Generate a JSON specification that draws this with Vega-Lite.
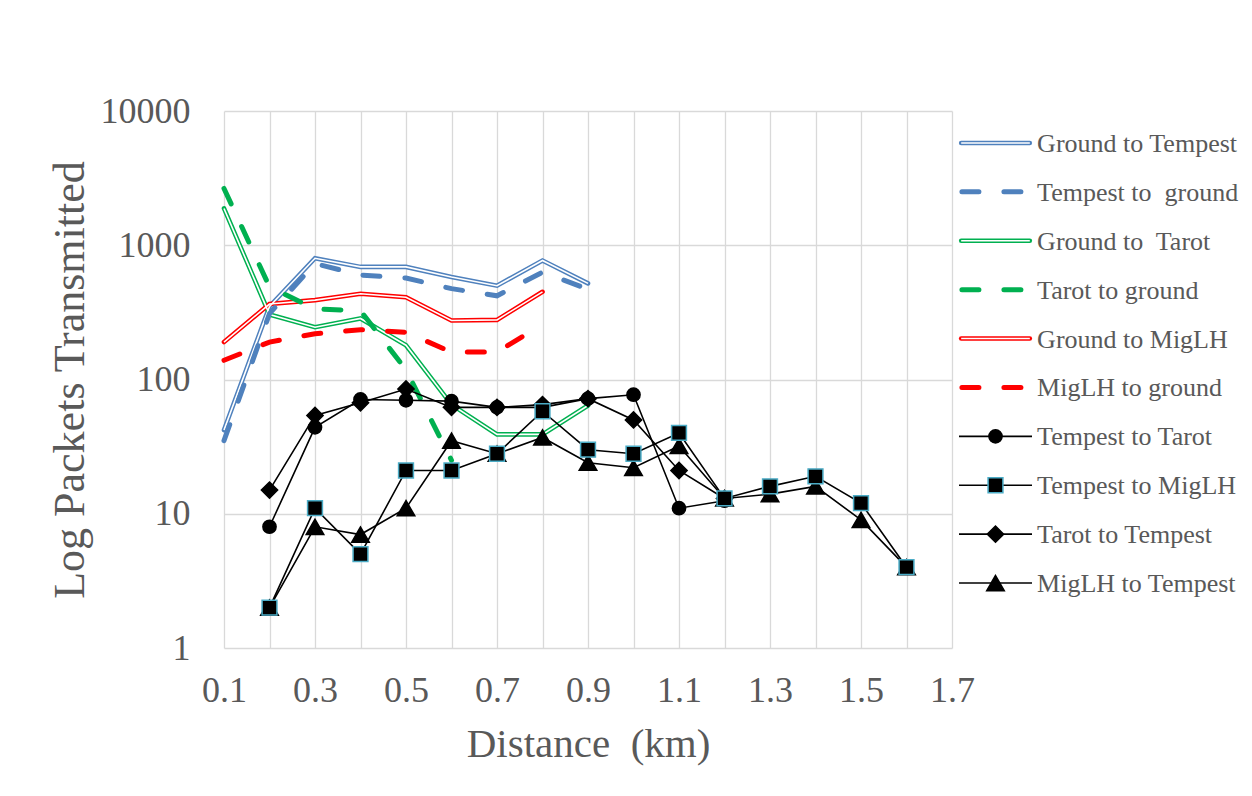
{
  "$schema": "https://vega.github.io/schema/vega-lite/v6.json",
  "background": "white",
  "padding": {"left": 48, "top": 93, "right": 3, "bottom": 5},
  "bounds": "flush",
  "spacing": 7,
  "config": {"font": "Liberation Serif", "view": {"stroke": null}},
  "datasets": {
    "pts": [
      {"series": "Ground to Tempest", "distance": 0.1, "packets": 42},
      {"series": "Ground to Tempest", "distance": 0.2, "packets": 350},
      {"series": "Ground to Tempest", "distance": 0.3, "packets": 800},
      {"series": "Ground to Tempest", "distance": 0.4, "packets": 690},
      {"series": "Ground to Tempest", "distance": 0.5, "packets": 690},
      {"series": "Ground to Tempest", "distance": 0.6, "packets": 580},
      {"series": "Ground to Tempest", "distance": 0.7, "packets": 500},
      {"series": "Ground to Tempest", "distance": 0.8, "packets": 770},
      {"series": "Ground to Tempest", "distance": 0.9, "packets": 520},
      {"series": "Tempest to\u00a0 ground", "distance": 0.1, "packets": 35},
      {"series": "Tempest to\u00a0 ground", "distance": 0.2, "packets": 310},
      {"series": "Tempest to\u00a0 ground", "distance": 0.3, "packets": 730},
      {"series": "Tempest to\u00a0 ground", "distance": 0.4, "packets": 600},
      {"series": "Tempest to\u00a0 ground", "distance": 0.5, "packets": 570},
      {"series": "Tempest to\u00a0 ground", "distance": 0.6, "packets": 475},
      {"series": "Tempest to\u00a0 ground", "distance": 0.7, "packets": 420},
      {"series": "Tempest to\u00a0 ground", "distance": 0.8, "packets": 630},
      {"series": "Tempest to\u00a0 ground", "distance": 0.9, "packets": 470},
      {"series": "Ground to\u00a0 Tarot", "distance": 0.1, "packets": 1880},
      {"series": "Ground to\u00a0 Tarot", "distance": 0.2, "packets": 305},
      {"series": "Ground to\u00a0 Tarot", "distance": 0.3, "packets": 245},
      {"series": "Ground to\u00a0 Tarot", "distance": 0.4, "packets": 285},
      {"series": "Ground to\u00a0 Tarot", "distance": 0.5, "packets": 180},
      {"series": "Ground to\u00a0 Tarot", "distance": 0.6, "packets": 65},
      {"series": "Ground to\u00a0 Tarot", "distance": 0.7, "packets": 39},
      {"series": "Ground to\u00a0 Tarot", "distance": 0.8, "packets": 39},
      {"series": "Ground to\u00a0 Tarot", "distance": 0.9, "packets": 64},
      {"series": "Tarot to ground", "distance": 0.1, "packets": 2650},
      {"series": "Tarot to ground", "distance": 0.2, "packets": 490},
      {"series": "Tarot to ground", "distance": 0.3, "packets": 335},
      {"series": "Tarot to ground", "distance": 0.4, "packets": 325},
      {"series": "Tarot to ground", "distance": 0.5, "packets": 118},
      {"series": "Tarot to ground", "distance": 0.6, "packets": 25},
      {"series": "Ground to MigLH", "distance": 0.1, "packets": 190},
      {"series": "Ground to MigLH", "distance": 0.2, "packets": 365},
      {"series": "Ground to MigLH", "distance": 0.3, "packets": 390},
      {"series": "Ground to MigLH", "distance": 0.4, "packets": 435},
      {"series": "Ground to MigLH", "distance": 0.5, "packets": 410},
      {"series": "Ground to MigLH", "distance": 0.6, "packets": 275},
      {"series": "Ground to MigLH", "distance": 0.7, "packets": 278},
      {"series": "Ground to MigLH", "distance": 0.8, "packets": 450},
      {"series": "MigLH to ground", "distance": 0.1, "packets": 139},
      {"series": "MigLH to ground", "distance": 0.2, "packets": 190},
      {"series": "MigLH to ground", "distance": 0.3, "packets": 219},
      {"series": "MigLH to ground", "distance": 0.4, "packets": 235},
      {"series": "MigLH to ground", "distance": 0.5, "packets": 225},
      {"series": "MigLH to ground", "distance": 0.6, "packets": 160},
      {"series": "MigLH to ground", "distance": 0.7, "packets": 160},
      {"series": "MigLH to ground", "distance": 0.8, "packets": 258},
      {"series": "Tarot to Tempest", "distance": 0.2, "packets": 15},
      {"series": "Tarot to Tempest", "distance": 0.3, "packets": 54},
      {"series": "Tarot to Tempest", "distance": 0.4, "packets": 67},
      {"series": "Tarot to Tempest", "distance": 0.5, "packets": 85},
      {"series": "Tarot to Tempest", "distance": 0.6, "packets": 62},
      {"series": "Tarot to Tempest", "distance": 0.7, "packets": 62},
      {"series": "Tarot to Tempest", "distance": 0.8, "packets": 65},
      {"series": "Tarot to Tempest", "distance": 0.9, "packets": 72},
      {"series": "Tarot to Tempest", "distance": 1.0, "packets": 50},
      {"series": "Tarot to Tempest", "distance": 1.1, "packets": 21},
      {"series": "Tarot to Tempest", "distance": 1.2, "packets": 13},
      {"series": "MigLH to Tempest", "distance": 0.2, "packets": 2},
      {"series": "MigLH to Tempest", "distance": 0.3, "packets": 8},
      {"series": "MigLH to Tempest", "distance": 0.4, "packets": 7},
      {"series": "MigLH to Tempest", "distance": 0.5, "packets": 11},
      {"series": "MigLH to Tempest", "distance": 0.6, "packets": 35},
      {"series": "MigLH to Tempest", "distance": 0.7, "packets": 28},
      {"series": "MigLH to Tempest", "distance": 0.8, "packets": 37},
      {"series": "MigLH to Tempest", "distance": 0.9, "packets": 24},
      {"series": "MigLH to Tempest", "distance": 1.0, "packets": 22},
      {"series": "MigLH to Tempest", "distance": 1.1, "packets": 32},
      {"series": "MigLH to Tempest", "distance": 1.2, "packets": 13},
      {"series": "MigLH to Tempest", "distance": 1.3, "packets": 14},
      {"series": "MigLH to Tempest", "distance": 1.4, "packets": 16},
      {"series": "MigLH to Tempest", "distance": 1.5, "packets": 9},
      {"series": "MigLH to Tempest", "distance": 1.6, "packets": 4},
      {"series": "Tempest to Tarot", "distance": 0.2, "packets": 8},
      {"series": "Tempest to Tarot", "distance": 0.3, "packets": 44},
      {"series": "Tempest to Tarot", "distance": 0.4, "packets": 71},
      {"series": "Tempest to Tarot", "distance": 0.5, "packets": 70},
      {"series": "Tempest to Tarot", "distance": 0.6, "packets": 69},
      {"series": "Tempest to Tarot", "distance": 0.7, "packets": 62},
      {"series": "Tempest to Tarot", "distance": 0.8, "packets": 62},
      {"series": "Tempest to Tarot", "distance": 0.9, "packets": 72},
      {"series": "Tempest to Tarot", "distance": 1.0, "packets": 77},
      {"series": "Tempest to Tarot", "distance": 1.1, "packets": 11},
      {"series": "Tempest to Tarot", "distance": 1.2, "packets": 12.5},
      {"series": "Tempest to MigLH", "distance": 0.2, "packets": 2},
      {"series": "Tempest to MigLH", "distance": 0.3, "packets": 11},
      {"series": "Tempest to MigLH", "distance": 0.4, "packets": 5},
      {"series": "Tempest to MigLH", "distance": 0.5, "packets": 21},
      {"series": "Tempest to MigLH", "distance": 0.6, "packets": 21},
      {"series": "Tempest to MigLH", "distance": 0.7, "packets": 28},
      {"series": "Tempest to MigLH", "distance": 0.8, "packets": 58},
      {"series": "Tempest to MigLH", "distance": 0.9, "packets": 30},
      {"series": "Tempest to MigLH", "distance": 1.0, "packets": 28},
      {"series": "Tempest to MigLH", "distance": 1.1, "packets": 40},
      {"series": "Tempest to MigLH", "distance": 1.2, "packets": 13},
      {"series": "Tempest to MigLH", "distance": 1.3, "packets": 16},
      {"series": "Tempest to MigLH", "distance": 1.4, "packets": 19},
      {"series": "Tempest to MigLH", "distance": 1.5, "packets": 12},
      {"series": "Tempest to MigLH", "distance": 1.6, "packets": 4}
    ]
  },
  "hconcat": [
    {
      "width": 728,
      "height": 537,
      "data": {"name": "pts"},
      "encoding": {
        "x": {
          "field": "distance", "type": "quantitative",
          "scale": {"domain": [0.1, 1.7], "nice": false, "zero": false},
          "axis": {
            "values": [0.1, 0.2, 0.3, 0.4, 0.5, 0.6, 0.7, 0.8, 0.9, 1.0, 1.1, 1.2, 1.3, 1.4, 1.5, 1.6, 1.7],
            "labelExpr": "round(datum.value*10) % 2 == 1 ? format(datum.value, '.1f') : ''",
            "labelOverlap": false, "labelBound": false, "labelFlush": false,
            "grid": true, "gridColor": "#d9d9d9", "gridWidth": 1.3,
            "domain": false, "ticks": false, "tickSize": 0,
            "labelFontSize": 36, "labelColor": "#595959", "labelPadding": 25,
            "title": "Distance\u00a0 (km)", "titleFontSize": 41, "titleFontWeight": "normal",
            "titleColor": "#595959", "titlePadding": 16
          }
        },
        "y": {
          "field": "packets", "type": "quantitative",
          "scale": {"type": "log", "domain": [1, 10000], "nice": false},
          "axis": {
            "values": [1, 10, 100, 1000, 10000], "format": "d",
            "grid": true, "gridColor": "#d9d9d9", "gridWidth": 1.3,
            "domain": false, "ticks": false, "tickSize": 0,
            "labelFontSize": 36, "labelColor": "#595959", "labelPadding": 34,
            "title": "Log Packets Transmitted", "titleFontSize": 44, "titleFontWeight": "normal",
            "titleColor": "#595959", "titlePadding": 8
          }
        }
      },
      "layer": [
        {
          "transform": [{"filter": {"field": "series", "oneOf": ["Ground to Tempest", "Ground to\u00a0 Tarot", "Ground to MigLH"]}}],
          "mark": {"type": "line", "strokeWidth": 4.6, "strokeCap": "round", "strokeJoin": "miter"},
          "encoding": {
            "color": {"field": "series", "type": "nominal", "legend": null,
              "scale": {"domain": ["Ground to Tempest", "Tempest to\u00a0 ground", "Ground to\u00a0 Tarot", "Tarot to ground", "Ground to MigLH", "MigLH to ground"],
                        "range": ["#4f81bd", "#4f81bd", "#00b050", "#00b050", "#ff0000", "#ff0000"]}}
          }
        },
        {
          "transform": [{"filter": {"field": "series", "oneOf": ["Ground to Tempest", "Ground to\u00a0 Tarot", "Ground to MigLH"]}}],
          "mark": {"type": "line", "strokeWidth": 1.6, "color": "white", "strokeJoin": "miter"},
          "encoding": {"detail": {"field": "series", "type": "nominal"}}
        },
        {
          "transform": [{"filter": {"field": "series", "oneOf": ["Tempest to\u00a0 ground", "Tarot to ground", "MigLH to ground"]}}],
          "mark": {"type": "line", "strokeWidth": 5, "strokeDash": [17, 25], "strokeCap": "round"},
          "encoding": {
            "color": {"field": "series", "type": "nominal", "legend": null,
              "scale": {"domain": ["Ground to Tempest", "Tempest to\u00a0 ground", "Ground to\u00a0 Tarot", "Tarot to ground", "Ground to MigLH", "MigLH to ground"],
                        "range": ["#4f81bd", "#4f81bd", "#00b050", "#00b050", "#ff0000", "#ff0000"]}}
          }
        },
        {
          "transform": [{"filter": {"field": "series", "oneOf": ["Tarot to Tempest", "MigLH to Tempest", "Tempest to Tarot", "Tempest to MigLH"]}}],
          "mark": {"type": "line", "strokeWidth": 1.6, "color": "black"},
          "encoding": {"detail": {"field": "series", "type": "nominal"}}
        },
        {
          "transform": [{"filter": {"field": "series", "oneOf": ["Tarot to Tempest", "MigLH to Tempest", "Tempest to Tarot", "Tempest to MigLH"]}}],
          "mark": {"type": "point", "filled": true, "fill": "black", "opacity": 1, "strokeWidth": 1.5, "strokeOpacity": 1},
          "encoding": {
            "shape": {"field": "series", "type": "nominal", "legend": null,
              "scale": {"domain": ["Tempest to Tarot", "Tempest to MigLH", "Tarot to Tempest", "MigLH to Tempest"],
                        "range": ["circle", "square", "diamond", "triangle-up"]}},
            "size": {"field": "series", "type": "nominal", "legend": null,
              "scale": {"domain": ["Tempest to Tarot", "Tempest to MigLH", "Tarot to Tempest", "MigLH to Tempest"],
                        "range": [175, 310, 190, 220]}},
            "stroke": {"field": "series", "type": "nominal", "legend": null,
              "scale": {"domain": ["Tempest to Tarot", "Tempest to MigLH", "Tarot to Tempest", "MigLH to Tempest"],
                        "range": ["black", "#4bacc6", "black", "black"]}}
          }
        }
      ]
    },
    {
      "width": 292,
      "height": 504,
      "data": {"name": "pts"},
      "transform": [{"aggregate": [{"op": "count", "as": "n"}], "groupby": ["series"]}],
      "encoding": {
        "y": {"field": "series", "type": "nominal", "axis": null,
          "scale": {"type": "point", "padding": 0.654,
            "domain": ["Ground to Tempest", "Tempest to\u00a0 ground", "Ground to\u00a0 Tarot", "Tarot to ground", "Ground to MigLH", "MigLH to ground", "Tempest to Tarot", "Tempest to MigLH", "Tarot to Tempest", "MigLH to Tempest"]}}
      },
      "layer": [
        {
          "transform": [{"filter": {"field": "series", "oneOf": ["Ground to Tempest", "Ground to\u00a0 Tarot", "Ground to MigLH"]}}],
          "mark": {"type": "rule", "strokeWidth": 4.6, "strokeCap": "round"},
          "encoding": {
            "x": {"datum": 0.03, "type": "quantitative", "scale": {"domain": [0, 4], "nice": false, "zero": false}, "axis": null},
            "x2": {"datum": 0.97},
            "color": {"field": "series", "type": "nominal", "legend": null,
              "scale": {"domain": ["Ground to Tempest", "Tempest to\u00a0 ground", "Ground to\u00a0 Tarot", "Tarot to ground", "Ground to MigLH", "MigLH to ground"],
                        "range": ["#4f81bd", "#4f81bd", "#00b050", "#00b050", "#ff0000", "#ff0000"]}}
          }
        },
        {
          "transform": [{"filter": {"field": "series", "oneOf": ["Ground to Tempest", "Ground to\u00a0 Tarot", "Ground to MigLH"]}}],
          "mark": {"type": "rule", "strokeWidth": 1.6, "color": "white"},
          "encoding": {
            "x": {"datum": 0.03, "type": "quantitative", "scale": {"domain": [0, 4], "nice": false, "zero": false}, "axis": null},
            "x2": {"datum": 0.97}
          }
        },
        {
          "transform": [{"filter": {"field": "series", "oneOf": ["Tempest to\u00a0 ground", "Tarot to ground", "MigLH to ground"]}}],
          "mark": {"type": "rule", "strokeWidth": 5, "strokeCap": "round", "strokeDash": [17, 25]},
          "encoding": {
            "x": {"datum": 0.04, "type": "quantitative", "scale": {"domain": [0, 4], "nice": false, "zero": false}, "axis": null},
            "x2": {"datum": 1},
            "color": {"field": "series", "type": "nominal", "legend": null,
              "scale": {"domain": ["Ground to Tempest", "Tempest to\u00a0 ground", "Ground to\u00a0 Tarot", "Tarot to ground", "Ground to MigLH", "MigLH to ground"],
                        "range": ["#4f81bd", "#4f81bd", "#00b050", "#00b050", "#ff0000", "#ff0000"]}}
          }
        },
        {
          "transform": [{"filter": {"field": "series", "oneOf": ["Tarot to Tempest", "MigLH to Tempest", "Tempest to Tarot", "Tempest to MigLH"]}}],
          "mark": {"type": "rule", "strokeWidth": 1.6, "color": "black"},
          "encoding": {
            "x": {"datum": 0, "type": "quantitative", "scale": {"domain": [0, 4], "nice": false, "zero": false}, "axis": null},
            "x2": {"datum": 1}
          }
        },
        {
          "transform": [{"filter": {"field": "series", "oneOf": ["Tarot to Tempest", "MigLH to Tempest", "Tempest to Tarot", "Tempest to MigLH"]}}],
          "mark": {"type": "point", "filled": true, "fill": "black", "opacity": 1, "strokeWidth": 1.5, "strokeOpacity": 1},
          "encoding": {
            "x": {"datum": 0.5, "type": "quantitative", "scale": {"domain": [0, 4], "nice": false, "zero": false}, "axis": null},
            "shape": {"field": "series", "type": "nominal", "legend": null,
              "scale": {"domain": ["Tempest to Tarot", "Tempest to MigLH", "Tarot to Tempest", "MigLH to Tempest"],
                        "range": ["circle", "square", "diamond", "triangle-up"]}},
            "size": {"field": "series", "type": "nominal", "legend": null,
              "scale": {"domain": ["Tempest to Tarot", "Tempest to MigLH", "Tarot to Tempest", "MigLH to Tempest"],
                        "range": [175, 310, 190, 220]}},
            "stroke": {"field": "series", "type": "nominal", "legend": null,
              "scale": {"domain": ["Tempest to Tarot", "Tempest to MigLH", "Tarot to Tempest", "MigLH to Tempest"],
                        "range": ["black", "#4bacc6", "black", "black"]}}
          }
        },
        {
          "mark": {"type": "text", "align": "left", "baseline": "middle", "fontSize": 26, "color": "#595959", "dy": 1},
          "encoding": {
            "x": {"datum": 1.07, "type": "quantitative", "scale": {"domain": [0, 4], "nice": false, "zero": false}, "axis": null},
            "text": {"field": "series", "type": "nominal"}
          }
        }
      ]
    }
  ]
}
